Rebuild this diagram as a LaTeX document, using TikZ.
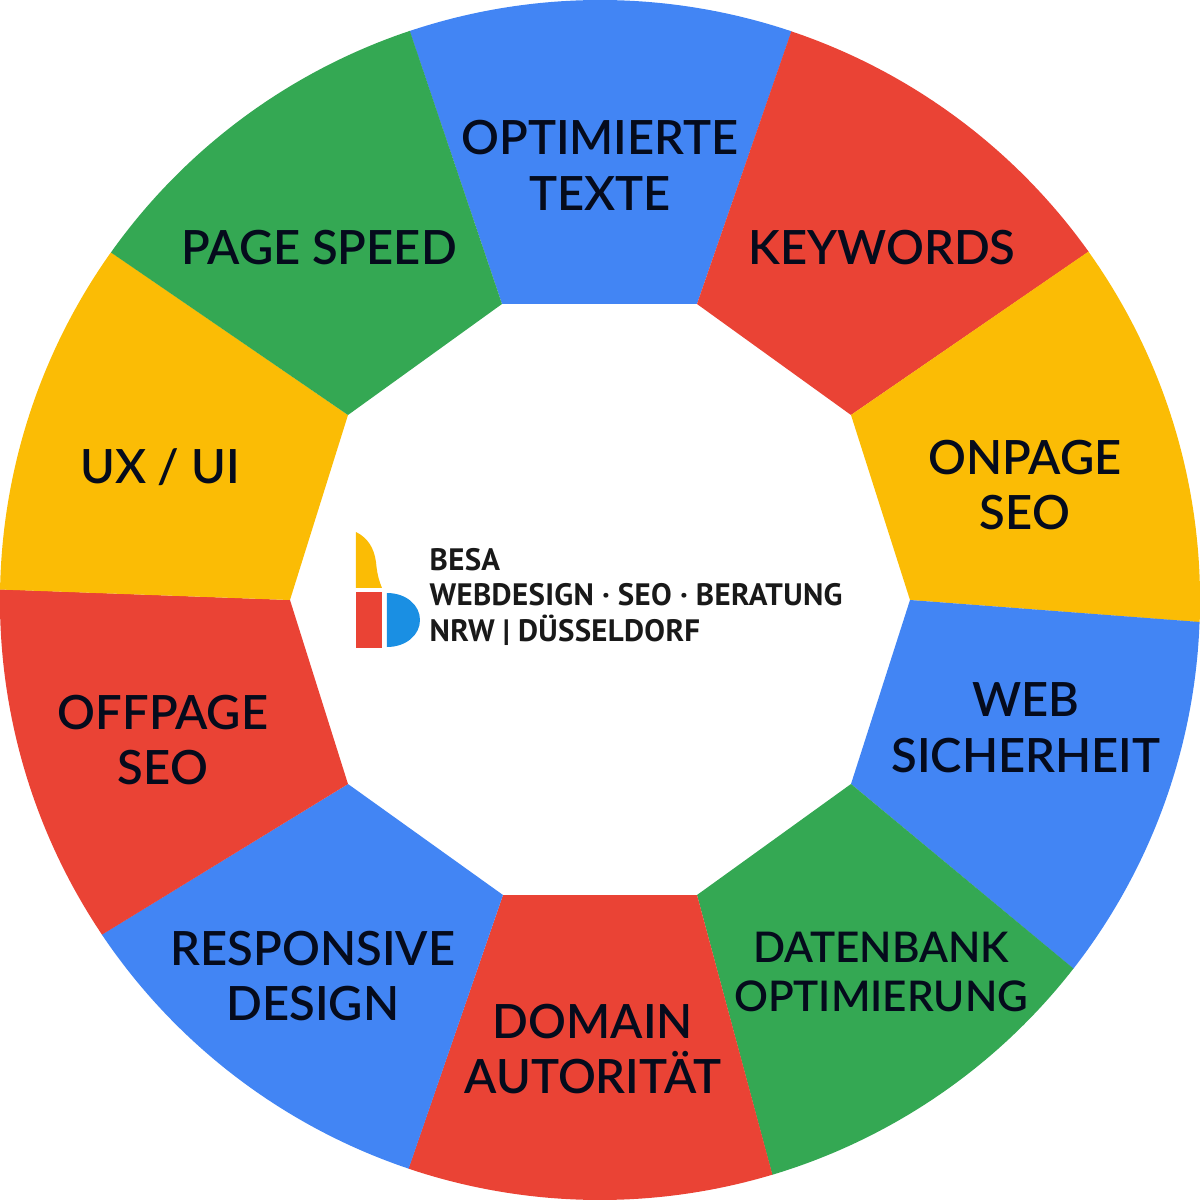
\documentclass[tikz,border=0pt]{standalone}
\usepackage{fontspec}
\setmainfont{Lato Semibold}
\newfontfamily\logofont[LetterSpace=1]{PT Sans}
\usetikzlibrary{calc}
\definecolor{gblue}{HTML}{4285F4}
\definecolor{gred}{HTML}{EA4335}
\definecolor{ggreen}{HTML}{34A853}
\definecolor{gyellow}{HTML}{FBBC05}
\definecolor{logoblue}{HTML}{1A8FE3}
\definecolor{inktext}{HTML}{050B1C}
\begin{document}
\begin{tikzpicture}[x=.01cm,y=.01cm,
    seglabel/.style={font=\fontsize{13.4}{15.9}\selectfont,text=inktext,align=center,inner sep=0pt},
    logotext/.style={font=\logofont\bfseries\fontsize{8.8}{10}\selectfont,text=black!90,anchor=west,inner sep=0pt}]

  %% Fix the page
  \useasboundingbox (-600,-600) rectangle (600,600);

  %% Set the coordinates of each corner, inner and outer
  \foreach \n/\a/\x/\y in {0/108.5/-98/296,1/71.4/97/296,2/35.5/251/185,3/-2.1/310/0,4/-37.9/251/-184,
      5/-73.3/97/-295,6/-108.6/-97/-295,7/-146.1/-252/-184,8/-181/-310/0,9/-215.4/-252/185,10/-251.5/-98/296}{
    \coordinate (in\n) at (\x,\y);
    \coordinate (out\n) at (\a:600);
  }

  %% Draw each segment
  \foreach \n/\m/\a/\b/\c in {0/1/108.5/71.4/gblue,1/2/71.4/35.5/gred,2/3/35.5/-2.1/gyellow,
      3/4/-2.1/-37.9/gblue,4/5/-37.9/-73.3/ggreen,5/6/-73.3/-108.6/gred,6/7/-108.6/-146.1/gblue,
      7/8/-146.1/-181/gred,8/9/-181/-215.4/gyellow,9/10/-215.4/-251.5/ggreen}{
    \fill[\c] (in\n) -- (out\n) arc[start angle=\a,end angle=\b,radius=6cm] -- (in\m) -- cycle;
  }

  %% Labels of the segments
  \node[seglabel] (texte) at (0,435) {OPTIMIERTE\\TEXTE};
  \node[seglabel] (keywords) at (282,352) {KEYWORDS};
  \node[seglabel] (onpage) at (425,115) {ONPAGE\\SEO};
  \node[seglabel] (sicher) at (426,-128) {WEB\\SICHERHEIT};
  \node[seglabel,font=\fontsize{12}{14.2}\selectfont] (daten) at (281,-372) {DATENBANK\\OPTIMIERUNG};
  \node[seglabel] (domain) at (-7,-449) {DOMAIN\\AUTORIT\"AT};
  \node[seglabel] (responsive) at (-287,-376) {RESPONSIVE\\DESIGN};
  \node[seglabel] (offpage) at (-437,-140) {OFFPAGE\\SEO};
  \node[seglabel] (ux) at (-440,133) {UX / UI};
  \node[seglabel] (speed) at (-281,352) {PAGE SPEED};

  %% The logo
  \fill[gyellow] (-244,68) .. controls (-232,62) and (-226,52) .. (-224,38) .. controls (-223,28) and (-222,22) .. (-218,12) -- (-244,12) -- cycle;
  \fill[gred] (-244,8) rectangle (-218,-48);
  \fill[logoblue] (-213,7) .. controls (-194,7) and (-180,-5) .. (-180,-20) .. controls (-180,-35) and (-194,-47) .. (-213,-47) -- cycle;
  \node[logotext] (besa) at (-171,40) {BESA};
  \node[logotext] (claim) at (-171,5) {WEBDESIGN · SEO · BERATUNG};
  \node[logotext] (place) at (-171,-30) {NRW | DÜSSELDORF};
\end{tikzpicture}
\end{document}
